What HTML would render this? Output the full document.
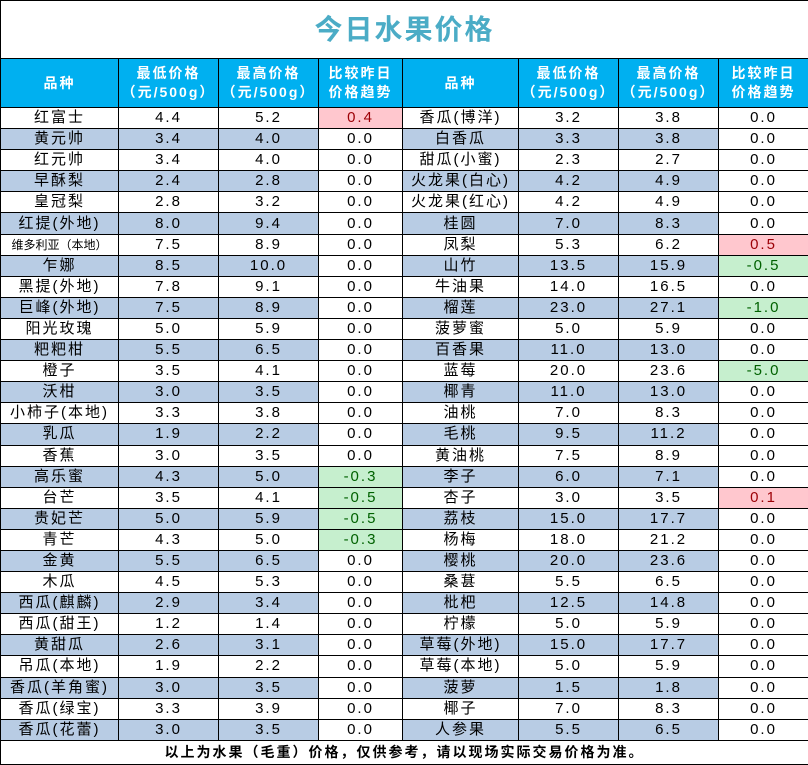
<!DOCTYPE html>
<html><head><meta charset="utf-8"><style>
html,body{margin:0;padding:0;background:#fff;}
table{border-collapse:collapse;table-layout:fixed;width:808px;font-family:"Liberation Sans","Noto Sans CJK SC",sans-serif;}
td{border:1px solid #000;text-align:center;padding:0;font-size:15px;height:20.1px;line-height:20px;color:#000;letter-spacing:2px;overflow:hidden;white-space:nowrap;}
.t td{height:57px;font-size:28px;font-weight:bold;color:#4bacc6;letter-spacing:2px;}
.h td{background:#00b0f0;color:#fff;font-weight:bold;font-size:14px;line-height:19px;height:48px;}
tr.b td.c{background:#b8cce4;}
td.r{background:#ffc7ce !important;color:#9c0006;}
td.g{background:#c6efce !important;color:#006100;}
.f td{font-weight:bold;font-size:14px;height:23px;}
.s{font-size:12px;letter-spacing:0;}
</style></head><body>
<table>
<colgroup><col style="width:118px"><col style="width:100px"><col style="width:100px"><col style="width:84px"><col style="width:116px"><col style="width:100px"><col style="width:100px"><col style="width:90px"></colgroup>
<tr class="t"><td colspan="8">今日水果价格</td></tr>
<tr class="h"><td>品种</td><td>最低价格<br>（元/500g）</td><td>最高价格<br>（元/500g）</td><td>比较昨日<br>价格趋势</td><td>品种</td><td>最低价格<br>（元/500g）</td><td>最高价格<br>（元/500g）</td><td>比较昨日<br>价格趋势</td></tr>
<tr><td class="c">红富士</td><td class="c">4.4</td><td class="c">5.2</td><td class="r">0.4</td><td class="c">香瓜(博洋)</td><td class="c">3.2</td><td class="c">3.8</td><td>0.0</td></tr>
<tr class="b"><td class="c">黄元帅</td><td class="c">3.4</td><td class="c">4.0</td><td>0.0</td><td class="c">白香瓜</td><td class="c">3.3</td><td class="c">3.8</td><td>0.0</td></tr>
<tr><td class="c">红元帅</td><td class="c">3.4</td><td class="c">4.0</td><td>0.0</td><td class="c">甜瓜(小蜜)</td><td class="c">2.3</td><td class="c">2.7</td><td>0.0</td></tr>
<tr class="b"><td class="c">早酥梨</td><td class="c">2.4</td><td class="c">2.8</td><td>0.0</td><td class="c">火龙果(白心)</td><td class="c">4.2</td><td class="c">4.9</td><td>0.0</td></tr>
<tr><td class="c">皇冠梨</td><td class="c">2.8</td><td class="c">3.2</td><td>0.0</td><td class="c">火龙果(红心)</td><td class="c">4.2</td><td class="c">4.9</td><td>0.0</td></tr>
<tr class="b"><td class="c">红提(外地)</td><td class="c">8.0</td><td class="c">9.4</td><td>0.0</td><td class="c">桂圆</td><td class="c">7.0</td><td class="c">8.3</td><td>0.0</td></tr>
<tr><td class="c s">维多利亚（本地）</td><td class="c">7.5</td><td class="c">8.9</td><td>0.0</td><td class="c">凤梨</td><td class="c">5.3</td><td class="c">6.2</td><td class="r">0.5</td></tr>
<tr class="b"><td class="c">乍娜</td><td class="c">8.5</td><td class="c">10.0</td><td>0.0</td><td class="c">山竹</td><td class="c">13.5</td><td class="c">15.9</td><td class="g">-0.5</td></tr>
<tr><td class="c">黑提(外地)</td><td class="c">7.8</td><td class="c">9.1</td><td>0.0</td><td class="c">牛油果</td><td class="c">14.0</td><td class="c">16.5</td><td>0.0</td></tr>
<tr class="b"><td class="c">巨峰(外地)</td><td class="c">7.5</td><td class="c">8.9</td><td>0.0</td><td class="c">榴莲</td><td class="c">23.0</td><td class="c">27.1</td><td class="g">-1.0</td></tr>
<tr><td class="c">阳光玫瑰</td><td class="c">5.0</td><td class="c">5.9</td><td>0.0</td><td class="c">菠萝蜜</td><td class="c">5.0</td><td class="c">5.9</td><td>0.0</td></tr>
<tr class="b"><td class="c">粑粑柑</td><td class="c">5.5</td><td class="c">6.5</td><td>0.0</td><td class="c">百香果</td><td class="c">11.0</td><td class="c">13.0</td><td>0.0</td></tr>
<tr><td class="c">橙子</td><td class="c">3.5</td><td class="c">4.1</td><td>0.0</td><td class="c">蓝莓</td><td class="c">20.0</td><td class="c">23.6</td><td class="g">-5.0</td></tr>
<tr class="b"><td class="c">沃柑</td><td class="c">3.0</td><td class="c">3.5</td><td>0.0</td><td class="c">椰青</td><td class="c">11.0</td><td class="c">13.0</td><td>0.0</td></tr>
<tr><td class="c">小柿子(本地)</td><td class="c">3.3</td><td class="c">3.8</td><td>0.0</td><td class="c">油桃</td><td class="c">7.0</td><td class="c">8.3</td><td>0.0</td></tr>
<tr class="b"><td class="c">乳瓜</td><td class="c">1.9</td><td class="c">2.2</td><td>0.0</td><td class="c">毛桃</td><td class="c">9.5</td><td class="c">11.2</td><td>0.0</td></tr>
<tr><td class="c">香蕉</td><td class="c">3.0</td><td class="c">3.5</td><td>0.0</td><td class="c">黄油桃</td><td class="c">7.5</td><td class="c">8.9</td><td>0.0</td></tr>
<tr class="b"><td class="c">高乐蜜</td><td class="c">4.3</td><td class="c">5.0</td><td class="g">-0.3</td><td class="c">李子</td><td class="c">6.0</td><td class="c">7.1</td><td>0.0</td></tr>
<tr><td class="c">台芒</td><td class="c">3.5</td><td class="c">4.1</td><td class="g">-0.5</td><td class="c">杏子</td><td class="c">3.0</td><td class="c">3.5</td><td class="r">0.1</td></tr>
<tr class="b"><td class="c">贵妃芒</td><td class="c">5.0</td><td class="c">5.9</td><td class="g">-0.5</td><td class="c">荔枝</td><td class="c">15.0</td><td class="c">17.7</td><td>0.0</td></tr>
<tr><td class="c">青芒</td><td class="c">4.3</td><td class="c">5.0</td><td class="g">-0.3</td><td class="c">杨梅</td><td class="c">18.0</td><td class="c">21.2</td><td>0.0</td></tr>
<tr class="b"><td class="c">金黄</td><td class="c">5.5</td><td class="c">6.5</td><td>0.0</td><td class="c">樱桃</td><td class="c">20.0</td><td class="c">23.6</td><td>0.0</td></tr>
<tr><td class="c">木瓜</td><td class="c">4.5</td><td class="c">5.3</td><td>0.0</td><td class="c">桑葚</td><td class="c">5.5</td><td class="c">6.5</td><td>0.0</td></tr>
<tr class="b"><td class="c">西瓜(麒麟)</td><td class="c">2.9</td><td class="c">3.4</td><td>0.0</td><td class="c">枇杷</td><td class="c">12.5</td><td class="c">14.8</td><td>0.0</td></tr>
<tr><td class="c">西瓜(甜王)</td><td class="c">1.2</td><td class="c">1.4</td><td>0.0</td><td class="c">柠檬</td><td class="c">5.0</td><td class="c">5.9</td><td>0.0</td></tr>
<tr class="b"><td class="c">黄甜瓜</td><td class="c">2.6</td><td class="c">3.1</td><td>0.0</td><td class="c">草莓(外地)</td><td class="c">15.0</td><td class="c">17.7</td><td>0.0</td></tr>
<tr><td class="c">吊瓜(本地)</td><td class="c">1.9</td><td class="c">2.2</td><td>0.0</td><td class="c">草莓(本地)</td><td class="c">5.0</td><td class="c">5.9</td><td>0.0</td></tr>
<tr class="b"><td class="c">香瓜(羊角蜜)</td><td class="c">3.0</td><td class="c">3.5</td><td>0.0</td><td class="c">菠萝</td><td class="c">1.5</td><td class="c">1.8</td><td>0.0</td></tr>
<tr><td class="c">香瓜(绿宝)</td><td class="c">3.3</td><td class="c">3.9</td><td>0.0</td><td class="c">椰子</td><td class="c">7.0</td><td class="c">8.3</td><td>0.0</td></tr>
<tr class="b"><td class="c">香瓜(花蕾)</td><td class="c">3.0</td><td class="c">3.5</td><td>0.0</td><td class="c">人参果</td><td class="c">5.5</td><td class="c">6.5</td><td>0.0</td></tr>
<tr class="f"><td colspan="8">以上为水果（毛重）价格，仅供参考，请以现场实际交易价格为准。</td></tr>
</table>
</body></html>
